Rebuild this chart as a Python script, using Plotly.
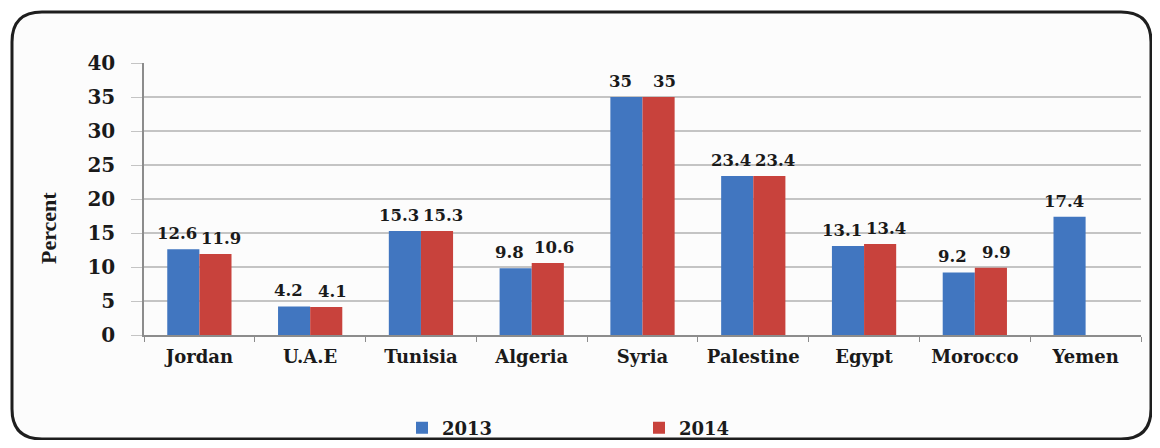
import plotly.graph_objects as go

countries = ["Jordan", "U.A.E", "Tunisia", "Algeria", "Syria", "Palestine", "Egypt", "Morocco", "Yemen"]
values_2013 = [12.6, 4.2, 15.3, 9.8, 35, 23.4, 13.1, 9.2, 17.4]
values_2014 = [11.9, 4.1, 15.3, 10.6, 35, 23.4, 13.4, 9.9, None]
y_ticks = [0, 5, 10, 15, 20, 25, 30, 35, 40]

# the page body adds an 8px margin on every side, so the figure is built
# 16px smaller so the whole page fits the 1160x448 window exactly
OFF = 8
W, H = 1160 - 2 * OFF, 448 - 2 * OFF
L, R, T, B = 144 - OFF, 1141 - OFF, 63 - OFF, 335 - OFF
pw, ph = R - L, B - T

def px(x):  # screen x -> paper
    return (x - OFF - L) / pw

def py(y):  # screen y -> paper
    return (B - (y - OFF)) / ph

FONT = "DejaVu Serif"
INK = "#1a1a1a"
BLUE = "#4176C0"
RED = "#C8423C"

fig = go.Figure()
fig.add_trace(go.Bar(name="2013", x=countries, y=values_2013,
                     marker=dict(color=BLUE, line=dict(width=0))))
fig.add_trace(go.Bar(name="2014", x=countries, y=values_2014,
                     marker=dict(color=RED, line=dict(width=0))))

label_font = dict(family=FONT, size=16.5, color=INK, weight="bold")
annotations = []
for series, shift in ((values_2013, -22), (values_2014, 22)):
    for c, v in zip(countries, series):
        if v is not None:
            annotations.append(dict(x=c, y=v, xref="x", yref="y", text=f"{v:g}", showarrow=False,
                                    xanchor="center", yanchor="bottom", xshift=shift, yshift=4,
                                    font=label_font))
annotations.append(dict(text="Percent", x=px(48), y=py(228), xref="paper", yref="paper",
                        xanchor="center", yanchor="middle", textangle=-90, showarrow=False,
                        font=dict(family="Liberation Serif", size=22, color=INK, weight="bold")))

# rounded frame
x0, x1 = px(12), px(1151)
y0, y1 = py(12), py(439)
rx = 30 / pw
ry = 30 / ph
path = (f"M {x0+rx},{y0} L {x1-rx},{y0} Q {x1},{y0} {x1},{y0-ry} "
        f"L {x1},{y1+ry} Q {x1},{y1} {x1-rx},{y1} "
        f"L {x0+rx},{y1} Q {x0},{y1} {x0},{y1+ry} "
        f"L {x0},{y0-ry} Q {x0},{y0} {x0+rx},{y0} Z")

fig.update_layout(
    width=W, height=H,
    margin=dict(l=L, r=W - R, t=T, b=H - B, pad=0, autoexpand=False),
    paper_bgcolor="white",
    plot_bgcolor="rgba(0,0,0,0)",
    barmode="group", bargap=0.42, bargroupgap=0,
    font=dict(family=FONT, color=INK),
    shapes=[dict(type="path", path=path, xref="paper", yref="paper",
                 line=dict(color="#1e1e1e", width=3), fillcolor="#fcfcfc", layer="below")],
    annotations=annotations,
    legend=dict(orientation="h", x=px(402), y=py(428), xanchor="left", yanchor="middle",
                entrywidth=192, entrywidthmode="pixels",
                font=dict(family=FONT, size=18, color=INK, weight="bold"),
                bgcolor="rgba(0,0,0,0)", itemwidth=30),
    xaxis=dict(
        tickfont=dict(family=FONT, size=18, color=INK, weight="bold"),
        showline=True, linecolor="#8c8c8c", linewidth=1.5,
        ticks="outside", tickson="boundaries", ticklen=5, tickcolor="#8c8c8c",
        ticklabelstandoff=5, showgrid=False,
    ),
    yaxis=dict(
        range=[0, 40], tickvals=y_ticks,
        tickfont=dict(family=FONT, size=20, color=INK, weight="bold"),
        showgrid=True, gridcolor="#c4c4c4", gridwidth=1.5,
        showline=True, linecolor="#8c8c8c", linewidth=1.5,
        ticks="outside", ticklen=11, tickcolor="#c4c4c4",
        ticklabelstandoff=12, zeroline=False,
    ),
)

fig.write_html("out.html")
